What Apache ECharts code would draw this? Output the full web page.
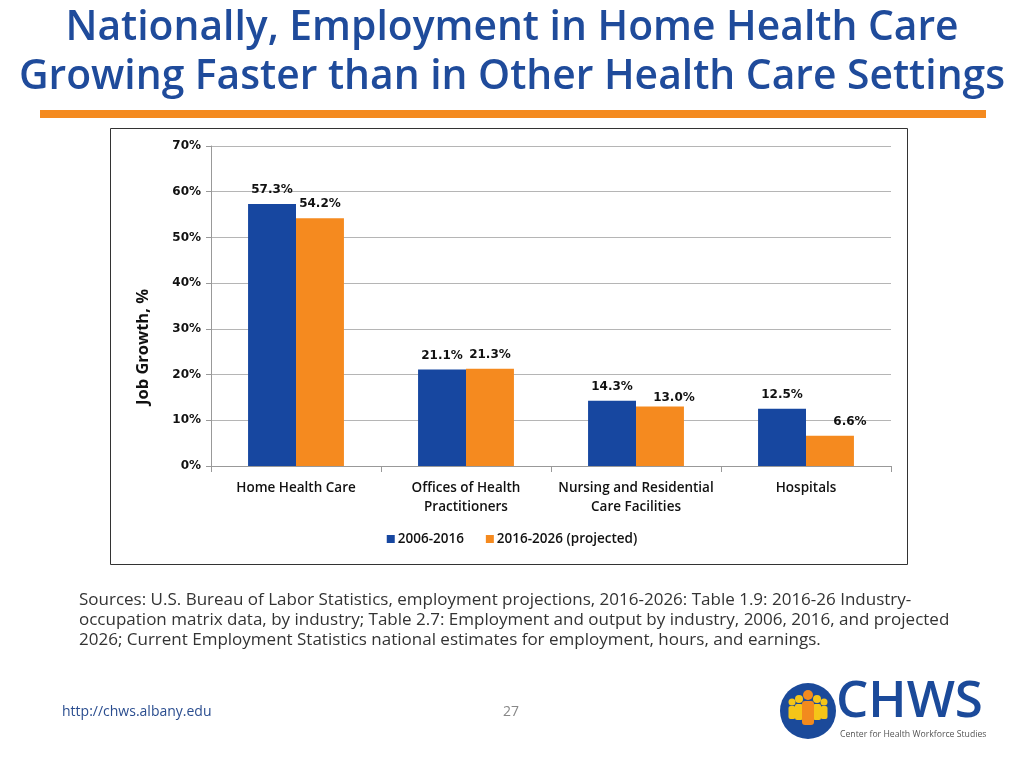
<!DOCTYPE html>
<html><head><meta charset="utf-8">
<script src="https://cdn.jsdelivr.net/npm/echarts@6/dist/echarts.min.js"></script>
<style>html,body{margin:0;padding:0;background:#fff;}#c{width:1024px;height:768px;}</style>
</head><body><div id="c"></div>
<script>
const categories = ['Home Health Care', 'Offices of Health\nPractitioners', 'Nursing and Residential\nCare Facilities', 'Hospitals'];
const series2006 = [57.3, 21.1, 14.3, 12.5];
const series2016 = [54.2, 21.3, 13.0, 6.6];
const yTicks = [0, 10, 20, 30, 40, 50, 60, 70];
const seriesNames = ['2006-2016', '2016-2026 (projected)'];

const chart = echarts.init(document.getElementById('c'));
const blue = '#1747a0', orange = '#f58a1f', titleBlue = '#1f4b9b';
const orangeOffsets = [[0,0],[0,0],[14,5],[20,0]];

chart.setOption({
  animation: false,
  textStyle: { fontFamily: 'Open Sans' },
  graphic: [
    { type: 'text', left: 'center', top: 8, style: { text: 'Nationally, Employment in Home Health Care', font: '600 40.8px "Open Sans"', fill: titleBlue } },
    { type: 'text', left: 'center', top: 57, style: { text: 'Growing Faster than in Other Health Care Settings', font: '600 40.8px "Open Sans"', fill: titleBlue } },
    { type: 'rect', shape: { x: 40, y: 110, width: 946, height: 8 }, style: { fill: '#f48a1f' } },
    { type: 'rect', shape: { x: 110.5, y: 128.5, width: 797, height: 436 }, style: { fill: 'none', stroke: '#333', lineWidth: 1 } },
    { type: 'text', x: 143, y: 347, rotation: Math.PI / 2, style: { text: 'Job Growth, %', font: 'bold 16.5px "Open Sans"', fill: '#111', align: 'center', verticalAlign: 'middle' } },
    { type: 'text', left: 79, top: 590, style: { text: 'Sources: U.S. Bureau of Labor Statistics, employment projections, 2016-2026: Table 1.9: 2016-26 Industry-\noccupation matrix data, by industry; Table 2.7: Employment and output by industry, 2006, 2016, and projected\n2026; Current Employment Statistics national estimates for employment, hours, and earnings.', font: '17px "Open Sans"', fill: '#333', lineHeight: 20 } },
    { type: 'text', left: 62, top: 705, style: { text: 'http://chws.albany.edu', font: '14px "Open Sans"', fill: '#2a4d8f' } },
    { type: 'text', left: 503, top: 705, style: { text: '27', font: '14px "Open Sans"', fill: '#888' } },
    // logo
    { type: 'circle', shape: { cx: 808, cy: 711, r: 28 }, style: { fill: '#1b4a9a' } },
    { type: 'circle', shape: { cx: 792, cy: 702, r: 3.5 }, style: { fill: '#f5c518' } },
    { type: 'rect', shape: { x: 788.5, y: 706, width: 7, height: 13, r: 2 }, style: { fill: '#f5c518' } },
    { type: 'circle', shape: { cx: 824, cy: 702, r: 3.5 }, style: { fill: '#f5c518' } },
    { type: 'rect', shape: { x: 820.5, y: 706, width: 7, height: 13, r: 2 }, style: { fill: '#f5c518' } },
    { type: 'circle', shape: { cx: 799, cy: 699, r: 4 }, style: { fill: '#f5c518' } },
    { type: 'rect', shape: { x: 795, y: 704, width: 8, height: 16, r: 2 }, style: { fill: '#f5c518' } },
    { type: 'circle', shape: { cx: 817, cy: 699, r: 4 }, style: { fill: '#f5c518' } },
    { type: 'rect', shape: { x: 813, y: 704, width: 8, height: 16, r: 2 }, style: { fill: '#f5c518' } },
    { type: 'circle', shape: { cx: 808, cy: 695, r: 5 }, style: { fill: '#f28a1e' } },
    { type: 'rect', shape: { x: 802, y: 701, width: 12, height: 24, r: 3 }, style: { fill: '#f28a1e' } },
    { type: 'text', left: 836, top: 677, style: { text: 'CHWS', font: '600 51px "Open Sans"', fill: '#1b4a9a' } },
    { type: 'text', left: 840, top: 730, style: { text: 'Center for Health Workforce Studies', font: '8.7px "Open Sans"', fill: '#555' } }
  ],
  grid: { left: 211, top: 146, right: 133, bottom: 302, containLabel: false },
  legend: {
    bottom: 217, left: 'center', itemWidth: 8, itemHeight: 8, itemGap: 22, icon: 'rect',
    textStyle: { fontFamily: 'Open Sans', fontWeight: 600, fontSize: 13.5, color: '#111', padding: [0, 0, 0, -2] },
    data: seriesNames
  },
  xAxis: {
    type: 'category', data: categories,
    axisLine: { lineStyle: { color: '#999' } },
    axisTick: { show: true, length: 6, lineStyle: { color: '#999' } },
    axisLabel: { interval: 0, color: '#111', fontFamily: 'Open Sans', fontWeight: 600, fontSize: 13.5, lineHeight: 19, margin: 13 }
  },
  yAxis: {
    type: 'value', min: 0, max: 70, interval: 10,
    axisLine: { show: true, lineStyle: { color: '#999' } },
    axisTick: { show: true, length: 5, lineStyle: { color: '#999' } },
    splitLine: { lineStyle: { color: '#b5b5b5' } },
    axisLabel: { color: '#111', fontFamily: 'DejaVu Sans', fontWeight: 'bold', fontSize: 12, margin: 10,
      formatter: v => yTicks.includes(v) ? v + '%' : '' }
  },
  series: [
    { name: seriesNames[0], type: 'bar', data: series2006, barWidth: '28.2%', barGap: '0%',
      itemStyle: { color: blue },
      label: { show: true, position: 'top', distance: 8, color: '#111', fontFamily: 'DejaVu Sans', fontWeight: 'bold', fontSize: 12, formatter: p => p.value.toFixed(1) + '%' } },
    { name: seriesNames[1], type: 'bar', barWidth: '28.2%',
      data: series2016.map((v, i) => ({ value: v, label: { offset: orangeOffsets[i] } })),
      itemStyle: { color: orange },
      label: { show: true, position: 'top', distance: 8, color: '#111', fontFamily: 'DejaVu Sans', fontWeight: 'bold', fontSize: 12, formatter: p => p.value.toFixed(1) + '%' } }
  ]
});
</script></body></html>
